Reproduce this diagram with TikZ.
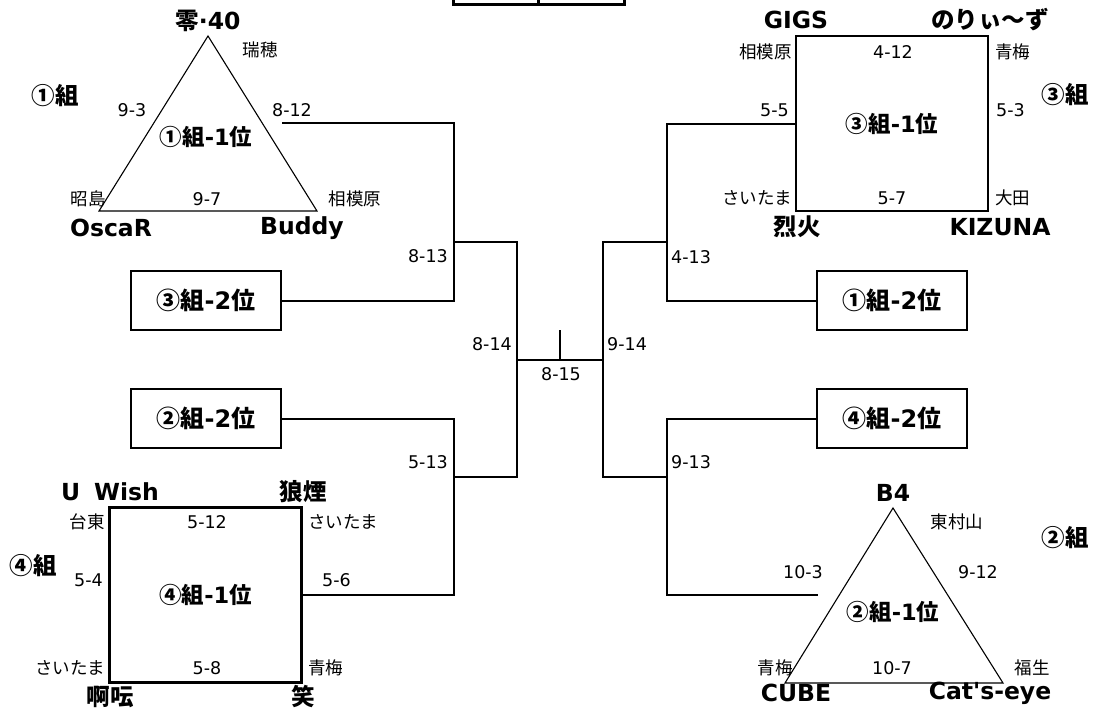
\documentclass[tikz,border=0pt]{standalone}
\usepackage{fontspec}
\setmainfont{DejaVu Sans}
\newfontfamily\jpf{Noto Sans CJK JP}
\newcommand\J[1]{{\jpf #1}}
\begin{document}
\begin{tikzpicture}[x=1pt,y=-1pt,
  small/.style={font=\fontsize{17.5}{20}\selectfont, inner sep=0pt},
  tname/.style={font=\fontsize{23.5}{26}\selectfont\bfseries, inner sep=0pt},
  midl/.style={font=\fontsize{22.5}{25}\selectfont\bfseries, inner sep=0pt},
  grp/.style={font=\fontsize{23.5}{26}\selectfont\bfseries, inner sep=0pt},
  rbox/.style={draw, line width=2pt, minimum width=150pt, minimum height=59pt, inner sep=0pt, font=\fontsize{24}{26}\selectfont\bfseries},
  sqbox/.style={draw, line width=2.2pt, minimum width=192pt, minimum height=175pt, inner sep=0pt, font=\fontsize{22.5}{25}\selectfont\bfseries},
  conn/.style={line width=2pt},
  tri/.style={line width=1.1pt, line join=miter}]
\useasboundingbox (0,0) rectangle (1093,717);
% top partial box
\draw[line width=3pt] (453,-30) rectangle (624,5);
\draw[line width=3pt] (538,-30) -- (538,5);

% group 1 triangle
\coordinate (t1a) at (208,36);
\coordinate (t1l) at (99,211);
\coordinate (t1r) at (317,211);
\draw[tri] (t1a) -- (t1l) -- (t1r) -- cycle;
\node[tname] (n01) at (208,21) {\J{零}·40};
\node[small] (n02) at (260,50) {\J{瑞穂}};
\node[grp] (n03) at (55,96) {\J{①組}};
\node[small] (n04) at (132,110) {9-3};
\node[small] (n05) at (292,110) {8-12};
\node[midl] (n06) at (206,137) {\J{①組}-1\J{位}};
\node[small, anchor=east] (n07) at (106,199) {\J{昭島}};
\node[small] (n08) at (207,199) {9-7};
\node[small] (n09) at (355,199) {\J{相模原}};
\node[tname] (n10) at (111,228) {OscaR};
\node[tname] (n11) at (302,228) {Buddy};

% group 3 square
\node[sqbox] (s3) at (892,123.5) {\J{③組}-1\J{位}};
\node[tname] (n12) at (796,20) {GIGS};
\node[tname] (n13) at (990,20) {\J{のりぃ〜ず}};
\node[small, anchor=east] (n14) at (792,52) {\J{相模原}};
\node[small] (n15) at (893,52) {4-12};
\node[small, anchor=west] (n16) at (995,52) {\J{青梅}};
\node[grp] (n17) at (1065,95) {\J{③組}};
\node[small, anchor=east] (n18) at (789,110) {5-5};
\node[small, anchor=west] (n19) at (996,110) {5-3};
\node[small, anchor=east] (n20) at (792,198) {\J{さいたま}};
\node[small] (n21) at (892,198) {5-7};
\node[small, anchor=west] (n22) at (995,198) {\J{大田}};
\node[tname] (n23) at (797,227) {\J{烈火}};
\node[tname] (n24) at (1000,227) {KIZUNA};

% group 4 square
\node[sqbox] (s4) at (205.5,595) {\J{④組}-1\J{位}};
\node[tname] (n25) at (110,492) {U\hspace{0.6em}Wish};
\node[tname] (n26) at (303,492) {\J{狼煙}};
\node[small, anchor=east] (n27) at (105,522) {\J{台東}};
\node[small] (n28) at (207,522) {5-12};
\node[small, anchor=west] (n29) at (308,522) {\J{さいたま}};
\node[grp] (n30) at (33,566) {\J{④組}};
\node[small, anchor=east] (n31) at (103,580) {5-4};
\node[small, anchor=west] (n32) at (322,580) {5-6};
\node[small, anchor=east] (n33) at (105,668) {\J{さいたま}};
\node[small] (n34) at (207,668) {5-8};
\node[small, anchor=west] (n35) at (308,668) {\J{青梅}};
\node[tname] (n36) at (110,697) {\J{啊呍}};
\node[tname] (n37) at (303,697) {\J{笑}};

% group 2 triangle
\coordinate (t2a) at (893,508);
\coordinate (t2l) at (785,683);
\coordinate (t2r) at (1003,683);
\draw[tri] (t2a) -- (t2l) -- (t2r) -- cycle;
\node[tname] (n38) at (893,493) {B4};
\node[small] (n39) at (957,522) {\J{東村山}};
\node[grp] (n40) at (1065,538) {\J{②組}};
\node[small] (n41) at (803,572) {10-3};
\node[small] (n42) at (978,572) {9-12};
\node[midl] (n43) at (893,612) {\J{②組}-1\J{位}};
\node[small, anchor=east] (n44) at (793,668) {\J{青梅}};
\node[small] (n45) at (892,668) {10-7};
\node[small] (n46) at (1032,668) {\J{福生}};
\node[tname] (n47) at (796,693) {CUBE};
\node[tname] (n48) at (990,693) {Cat\textquotesingle s-eye};

% second place boxes
\node[rbox] (b32) at (206,300.5) {\J{③組}-2\J{位}};
\node[rbox] (b22) at (206,418.5) {\J{②組}-2\J{位}};
\node[rbox] (b12) at (892,300.5) {\J{①組}-2\J{位}};
\node[rbox] (b42) at (892,418.5) {\J{④組}-2\J{位}};

% bracket coordinates
\coordinate (P1) at (282,123);
\coordinate (Q2) at (454,300.5);
\coordinate (Q4) at (454,595);
\coordinate (J1) at (454,242);
\coordinate (K2) at (517,477);
\coordinate (J2) at (454,477);
\coordinate (M1) at (517,360);
\coordinate (M2) at (603,360);
\coordinate (T) at (560,330);
\coordinate (T0) at (560,360);
\coordinate (R2) at (667,300.5);
\coordinate (J3) at (667,242);
\coordinate (K4) at (603,477);
\coordinate (J4) at (667,477);
\coordinate (R4) at (667,595);
\coordinate (P4) at (818,595);

\draw[conn] (P1) -| (Q2) -- (b32.east);
\draw[conn] (b22.east) -| (Q4) -- (s4.east);
\draw[conn] (J1) -| (K2) -- (J2);
\draw[conn] (M1) -- (M2);
\draw[conn] (T) -- (T0);
\draw[conn] (s3.west) -| (R2) -- (b12.west);
\draw[conn] (J3) -| (K4) -- (J4);
\draw[conn] (b42.west) -| (R4) -- (P4);

\node[small, anchor=east] (n49) at (448,256) {8-13};
\node[small, anchor=east] (n50) at (448,462) {5-13};
\node[small, anchor=east] (n51) at (512,344) {8-14};
\node[small, anchor=west] (n52) at (607,344) {9-14};
\node[small] (n53) at (561,374) {8-15};
\node[small, anchor=west] (n54) at (671,257) {4-13};
\node[small, anchor=west] (n55) at (671,462) {9-13};
\end{tikzpicture}
\end{document}
